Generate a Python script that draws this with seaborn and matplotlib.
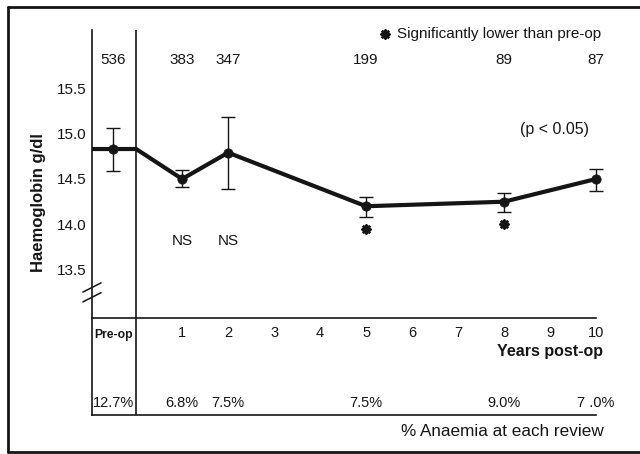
import numpy as np
import pandas as pd
import matplotlib
matplotlib.use("Agg")
import matplotlib.pyplot as plt
import seaborn as sns
from matplotlib.lines import Line2D

# review points (pre-op sits half a year left of the divider)
review = ['Pre-op', '1', '2', '5', '8', '10']
years = [-0.5, 1, 2, 5, 8, 10]
hb = [14.83, 14.50, 14.79, 14.20, 14.25, 14.50]
hb_low = [14.59, 14.41, 14.39, 14.08, 14.14, 14.37]
hb_high = [15.06, 14.60, 15.18, 14.30, 14.35, 14.61]
n_pat = ['536', '383', '347', '199', '89', '87']
anaemia = ['12.7%', '6.8%', '7.5%', '7.5%', '9.0%', '7 .0%']
signif = ['', 'NS', 'NS', '*', '*', '']

ytick_vals = [13.5, 14.0, 14.5, 15.0, 15.5]
xtick_vals = list(range(1, 11))

sns.set_style("white")
plt.rcParams['font.family'] = ['Liberation Sans', 'DejaVu Sans']
ink = '#151515'

fig = plt.figure(figsize=(6.4, 4.54), dpi=100)
ax = fig.add_axes([92/640, 1 - 318/454, 504/640, 288/454])
ax2 = fig.add_axes([92/640, 1 - 415/454, 504/640, 97/454])

xmin, xmax = -0.96, 10.0
ymin, ymax = 12.97, 16.14

# main line: flat pre-op segment up to the divider, then the reviews
line_df = pd.DataFrame({'x': [xmin, 0] + years[1:], 'y': [hb[0], hb[0]] + hb[1:]})
sns.lineplot(data=line_df, x='x', y='y', sort=False, color=ink, lw=3, ax=ax)
ax.lines[0].set_solid_capstyle('butt')
pts = pd.DataFrame({'x': years, 'y': hb})
sns.scatterplot(data=pts, x='x', y='y', color=ink, s=45, edgecolor=ink, zorder=5, ax=ax,
                clip_on=False)
eb = ax.errorbar(years, hb, yerr=[np.array(hb) - np.array(hb_low), np.array(hb_high) - np.array(hb)],
                 fmt='none', ecolor=ink, elinewidth=1, capsize=5, capthick=1)
for art in eb.lines[1] + eb.lines[2]:
    art.set_clip_on(False)

for x, lo, s, n in zip(years, hb_low, signif, n_pat):
    ax.text(x, 15.81, n, ha='center', va='center', fontsize=11, color=ink, clip_on=False)
    if s == 'NS':
        ax.text(x, 13.82, s, ha='center', va='center', fontsize=11, color=ink)
    elif s == '*':
        ax.scatter([x], [lo - 0.13], marker=(8, 2, 0), s=30, color=ink, lw=2)

ax.scatter([5.42], [16.10], marker=(8, 2, 0), s=30, color=ink, lw=2, clip_on=False)
ax.text(5.67, 16.10, 'Significantly lower than pre-op', ha='left', va='center',
        fontsize=11, color=ink, clip_on=False)
ax.text(9.85, 15.04, '(p < 0.05)', ha='right', va='center', fontsize=11.5, color=ink)

ax.axvline(0, color=ink, lw=1.2)
ax.set_xlim(xmin, xmax)
ax.set_ylim(ymin, ymax)
ax.set_yticks(ytick_vals)
ax.set_yticklabels([f'{v:.1f}' for v in ytick_vals], fontsize=11, color=ink)
ax.set_xticks(xtick_vals)
ax.set_xticklabels([str(v) for v in xtick_vals], fontsize=10.5, color=ink)
ax.tick_params(axis='both', direction='in', length=6, width=1.2, color=ink, pad=4)
ax.tick_params(axis='x', pad=6)
for side in ['top', 'right']:
    ax.spines[side].set_visible(False)
for side in ['left', 'bottom']:
    ax.spines[side].set_color(ink)
    ax.spines[side].set_linewidth(1.2)
ax.set_xlabel('')
ax.set_ylabel('Haemoglobin g/dl', fontsize=12, fontweight='bold', color=ink)
ax.yaxis.set_label_coords(-0.092, 0.4)

# axis break marks
for dy in [0.0, -0.034]:
    ax.plot([-0.018, 0.018], [0.09 + dy, 0.122 + dy], transform=ax.transAxes,
            color=ink, lw=1.1, clip_on=False)

# anaemia strip below the axis
ax2.set_xlim(xmin, xmax)
ax2.set_ylim(0, 1)
ax2.axvline(0, color=ink, lw=1.2)
ax2.set_xticks([])
ax2.set_yticks([])
for side in ['top', 'right']:
    ax2.spines[side].set_visible(False)
for side in ['left', 'bottom']:
    ax2.spines[side].set_color(ink)
    ax2.spines[side].set_linewidth(1.2)
ax2.patch.set_alpha(0)
ax2.text(-0.5, 0.82, 'Pre-op', ha='center', va='center', fontsize=8.7, fontweight='bold', color=ink)
for x, a in zip(years, anaemia):
    ax2.text(x, 0.12, a, ha='center', va='center', fontsize=10.5, color=ink, clip_on=False)
ax2.text(10.15, 0.65, 'Years post-op', ha='right', va='center', fontsize=11.5,
         fontweight='bold', color=ink, clip_on=False)
ax2.text(10.17, -0.165, '% Anaemia at each review', ha='right', va='center',
         fontsize=12.3, color=ink, clip_on=False)

# outer frame (runs off the right edge)
for xs, ys in [([8/640, 1.01], [1 - 7/454] * 2), ([8/640] * 2, [1 - 7/454, 1 - 452/454]),
               ([8/640, 1.01], [1 - 452/454] * 2)]:
    fig.add_artist(Line2D(xs, ys, transform=fig.transFigure, color=ink, lw=2))

fig.savefig('out.png', dpi=100)
